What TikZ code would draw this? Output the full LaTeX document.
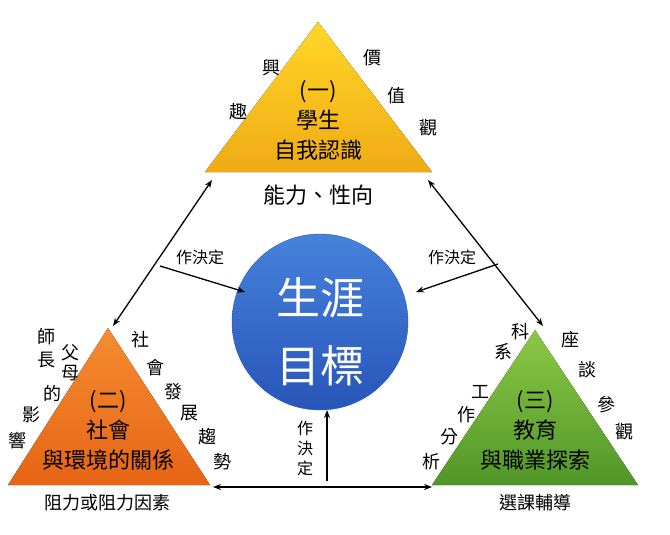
\documentclass[tikz,border=0pt]{standalone}
\usepackage{fontspec}
\setmainfont{Noto Sans CJK TC}
\usetikzlibrary{arrows.meta}
\definecolor{ctop}{RGB}{70,130,220}
\definecolor{cbot}{RGB}{40,85,185}
\definecolor{ytop}{RGB}{255,215,40}
\definecolor{ybot}{RGB}{240,170,20}
\definecolor{otop}{RGB}{245,140,50}
\definecolor{obot}{RGB}{230,100,20}
\definecolor{gtop}{RGB}{140,200,70}
\definecolor{gbot}{RGB}{80,150,40}
\begin{document}
\begin{tikzpicture}[x=1pt,y=-1pt,
  lab/.style={font=\fontsize{18}{18}\selectfont},
  big/.style={font=\fontsize{22}{30}\selectfont,align=center},
  arr/.style={-{Stealth[length=8pt,width=6pt]},line width=1.3pt},
  darr/.style={{Stealth[length=8pt,width=6pt]}-{Stealth[length=8pt,width=6pt]},line width=1.3pt}]
\useasboundingbox (0,0) rectangle (670,535);
\fill[top color=ytop, bottom color=ybot] (318,22) -- (432,172) -- (205,172) -- cycle;
\fill[top color=otop, bottom color=obot] (108,328) -- (210,485) -- (8,485) -- cycle;
\fill[top color=gtop, bottom color=gbot] (535,330) -- (638,485) -- (432,485) -- cycle;
\shade[top color=ctop, bottom color=cbot, draw=cbot] (320,322) circle (88);
\node[big] (t1) at (318,120) {(一)\\學生\\自我認識};
\node[big] (t2) at (108,430) {(二)\\社會\\與環境的關係};
\node[big] (t3) at (535,430) {(三)\\教育\\與職業探索};
\node[font=\fontsize{44}{68}\selectfont,text=white,align=center] (c) at (320,332) {生涯\\目標};
\node[big] (n1) at (318,195) {能力、性向};
\node[lab] (n2) at (108,503) {阻力或阻力因素};
\node[lab] (n3) at (535,503) {選課輔導};
\foreach \t/\x/\y in {興/271/68,趣/238/112,價/372/58,值/396/96,觀/428/128,
 師/46/337,長/46/360,父/70/353,母/70/373,的/52/393,影/32/415,響/18/441,
 社/140/340,會/155/368,發/173/392,展/189/413,趨/207/437,勢/222/462,
 科/520/332,系/503/352,座/570/340,談/587/370,參/606/405,觀/624/432,
 工/480/392,作/466/415,分/449/437,析/431/462}
  \node[lab] at (\x,\y) {\t};
\coordinate (a1) at (212,180); \coordinate (b1) at (113,326);
\coordinate (a2) at (428,180); \coordinate (b2) at (543,326);
\coordinate (a3) at (213,487); \coordinate (b3) at (432,487);
\draw[darr] (a1) -- (b1);
\draw[darr] (a2) -- (b2);
\draw[darr] (a3) -- (b3);
\coordinate (p1) at (160,266); \coordinate (q1) at (245,292);
\coordinate (p2) at (498,264); \coordinate (q2) at (416,292);
\coordinate (p3) at (327,481); \coordinate (q3) at (327,410);
\draw[arr] (p1) -- (q1);
\draw[arr] (p2) -- (q2);
\draw[arr] (p3) -- (q3);
\node[font=\fontsize{16}{16}\selectfont] (l1) at (200,257) {作決定};
\node[font=\fontsize{16}{16}\selectfont] (l2) at (452,257) {作決定};
\node[font=\fontsize{16}{20}\selectfont,align=center] (l3) at (305,448) {作\\決\\定};
\end{tikzpicture}
\end{document}
